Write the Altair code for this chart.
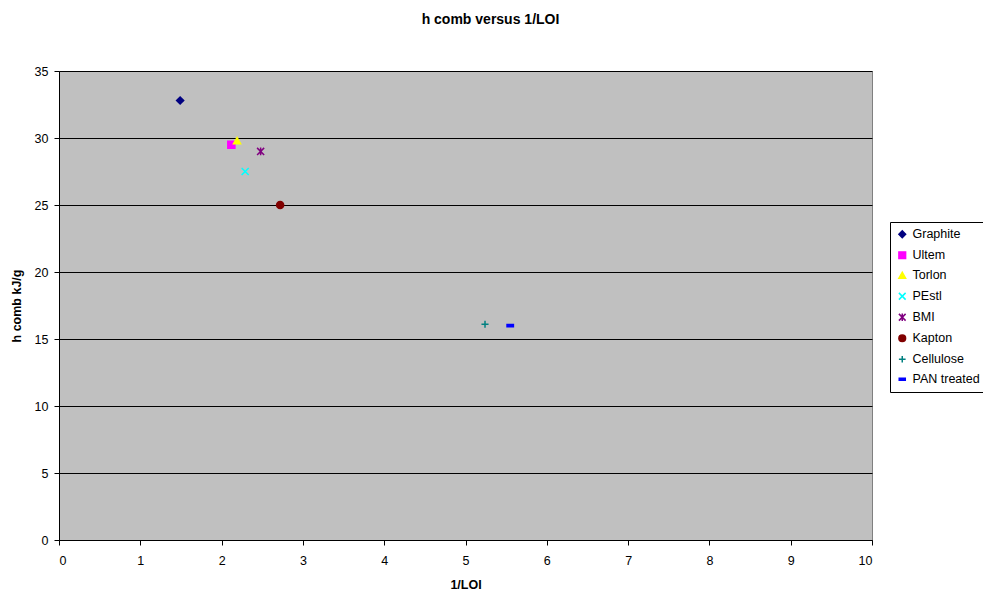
import altair as alt
import pandas as pd

materials = ["Graphite", "Ultem", "Torlon", "PEstl", "BMI", "Kapton", "Cellulose", "PAN treated"]
inv_loi = [1.49, 2.12, 2.19, 2.29, 2.48, 2.72, 5.24, 5.55]
h_comb = [32.8, 29.5, 29.8, 27.5, 29.0, 25.0, 16.1, 16.0]
colors = ["#000080", "#FF00FF", "#FFFF00", "#00FFFF", "#800080", "#800000", "#008080", "#0000FF"]
shapes = [
    "diamond",
    "square",
    "triangle-up",
    "M-1,-1L1,1M1,-1L-1,1",
    "M-1,-1L1,1M1,-1L-1,1M0,-1.1L0,1.1",
    "circle",
    "M-1,0L1,0M0,-1L0,1",
    "M-0.9,-0.3L0.9,-0.3L0.9,0.3L-0.9,0.3Z",
]

df = pd.DataFrame({"material": materials, "x": inv_loi, "y": h_comb})

font = "Liberation Sans"
scale_c = alt.Scale(domain=materials, range=colors)
scale_s = alt.Scale(domain=materials, range=shapes)

legend = alt.Legend(
    title=None, orient="none", legendX=831, legendY=151,
    strokeColor="#000000", fillColor="#FFFFFF", padding=6,
    labelFont=font, labelFontSize=12.5, labelColor="#000000",
    rowPadding=7, symbolSize=45, symbolStrokeWidth=1.5, labelOffset=4,
)

chart = alt.Chart(df).mark_point(size=50, strokeWidth=1.5, opacity=1, fillOpacity=1).encode(
    x=alt.X("x:Q", title="1/LOI", scale=alt.Scale(domain=[0, 10], nice=False),
            axis=alt.Axis(values=list(range(0, 11)), grid=False, titlePadding=12,
                          labelPadding=9)),
    y=alt.Y("y:Q", title="h comb kJ/g", scale=alt.Scale(domain=[0, 35], nice=False),
            axis=alt.Axis(values=list(range(0, 36, 5)), grid=True, titlePadding=11,
                          labelPadding=6)),
    fill=alt.Fill("material:N", scale=scale_c, legend=legend, sort=materials),
    stroke=alt.Stroke("material:N", scale=scale_c, legend=legend, sort=materials),
    shape=alt.Shape("material:N", scale=scale_s, legend=legend, sort=materials),
).properties(
    width=813, height=469,
    background="#FFFFFF",
    title=alt.TitleParams("h comb versus 1/LOI", font=font, fontSize=14, fontWeight="bold",
                          anchor="middle", dx=25, offset=38, color="#000000"),
    padding={"left": 59, "top": 71, "right": 111, "bottom": 51},
    autosize=alt.AutoSizeParams(type="none"),
).configure_view(
    fill="#C0C0C0", stroke="#808080", strokeWidth=1,
).configure_axis(
    labelFont=font, labelFontSize=12.5, labelColor="#000000",
    titleFont=font, titleFontSize=12.5, titleFontWeight="bold", titleColor="#000000",
    domainColor="#000000", tickColor="#000000", tickSize=5,
    gridColor="#000000", gridWidth=1, gridOpacity=1,
)

chart.save("out.html", embed_options={"renderer": "svg", "actions": False})
